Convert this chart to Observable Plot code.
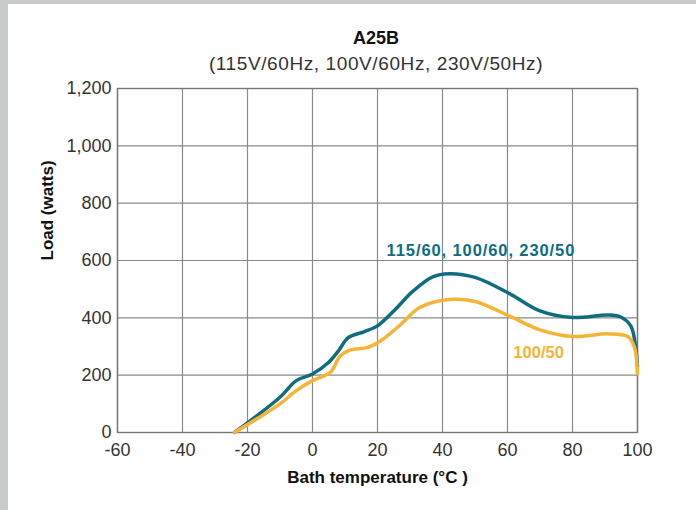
<!DOCTYPE html>
<html>
<head>
<meta charset="utf-8">
<script src="https://cdn.jsdelivr.net/npm/d3@7"></script>
<script src="https://cdn.jsdelivr.net/npm/@observablehq/plot@0.6"></script>
<style>
  html, body { margin: 0; padding: 0; }
  body { width: 696px; height: 510px; background: #c9cacc; position: relative; overflow: hidden;
         font-family: "Liberation Sans", Arial, sans-serif; }
  #card { position: absolute; left: 8px; top: 4px; width: 688px; height: 506px; background: #fff; }
  #title { position: absolute; left: 0; top: 24px; width: 736px; text-align: center;
           font-size: 18px; font-weight: bold; color: #111; }
  #subtitle { position: absolute; left: 0; top: 49px; width: 736px; text-align: center;
              font-size: 19px; letter-spacing: 0.6px; color: #333; }
  #chart { position: absolute; left: 0; top: 71px; }
</style>
</head>
<body>
<div id="card">
  <div id="title">A25B</div>
  <div id="subtitle">(115V/60Hz, 100V/60Hz, 230V/50Hz)</div>
  <div id="chart"></div>
</div>
<script>
// Series: 115/60, 100/60, 230/50
const tealTemp = [-24, -10, -5, 0, 5, 8, 11, 16, 20, 25, 31, 37, 42, 50, 61, 70, 80, 91, 95, 98, 99.4, 100];
const tealLoad = [0, 123, 181, 204, 245, 285, 331, 352, 372, 424, 494, 543, 554, 541, 482, 424, 401, 410, 402, 370, 300, 230];
// Series: 100/50
const orangeTemp = [-24, -10, -5, 0, 5.5, 8.6, 11.7, 17, 21, 27, 33, 42, 50, 61, 70, 80, 91, 97, 99, 100];
const orangeLoad = [0, 100, 146, 181, 210, 268, 288, 297, 320, 375, 436, 464, 457, 404, 358, 335, 344, 335, 300, 205];

const xTicks = [-60, -40, -20, 0, 20, 40, 60, 80, 100];
const yTicks = [0, 200, 400, 600, 800, 1000, 1200];

const seriesNames = ["115/60, 100/60, 230/50", "100/50"];
const seriesColors = ["#0e6e80", "#f6b334"];
const labelTemp = [22.8, 61.8];
const labelLoad = [633, 278];

const teal = tealTemp.map((t, i) => ({temp: t, load: tealLoad[i]}));
const orange = orangeTemp.map((t, i) => ({temp: t, load: orangeLoad[i]}));
const labels = seriesNames.map((n, i) => ({name: n, temp: labelTemp[i], load: labelLoad[i], color: seriesColors[i]}));

const hyphenFormat = d => String(d);

const chart = Plot.plot({
  width: 688,
  height: 435,
  marginTop: 13,
  marginBottom: 78,
  marginLeft: 109,
  marginRight: 59,
  style: {fontFamily: "'Liberation Sans', Arial, sans-serif", fontSize: "18px", color: "#333", background: "transparent"},
  x: {domain: [-60, 100], ticks: xTicks, tickSize: 0, label: null},
  y: {domain: [0, 1200], ticks: yTicks, tickSize: 0, label: null},
  marks: [
    Plot.gridX(xTicks, {stroke: "#8a8a8a", strokeOpacity: 1, strokeWidth: 1.2}),
    Plot.gridY(yTicks, {stroke: "#8a8a8a", strokeOpacity: 1, strokeWidth: 1.2}),
    Plot.frame({stroke: "#777", strokeWidth: 1.4}),
    Plot.axisX({ticks: xTicks, tickSize: 0, tickPadding: 11, label: null, fontSize: 18, tickFormat: hyphenFormat}),
    Plot.axisY({ticks: yTicks, tickSize: 0, tickPadding: 6, label: null, tickFormat: d3.format(","), fontSize: 18}),
    Plot.line(teal, {x: "temp", y: "load", stroke: seriesColors[0], strokeWidth: 3.5, curve: "catmull-rom"}),
    Plot.line(orange, {x: "temp", y: "load", stroke: seriesColors[1], strokeWidth: 3.5, curve: "catmull-rom"}),
    Plot.text(labels, {x: "temp", y: "load", text: "name", fill: "color", textAnchor: "start", fontSize: 16.5, fontWeight: "bold"}),
    Plot.text(["Bath temperature (°C )"], {frameAnchor: "bottom", dy: 50, fontSize: 17, fontWeight: "bold", fill: "#111"}),
    Plot.text(["Load (watts)"], {frameAnchor: "left", dx: -70, rotate: -90, fontSize: 17, fontWeight: "bold", fill: "#111"})
  ]
});
d3.select(chart).selectAll("text").filter(function() { return this.textContent === seriesNames[0]; })
  .style("letter-spacing", "0.9px");
document.getElementById("chart").appendChild(chart);
</script>
</body>
</html>
